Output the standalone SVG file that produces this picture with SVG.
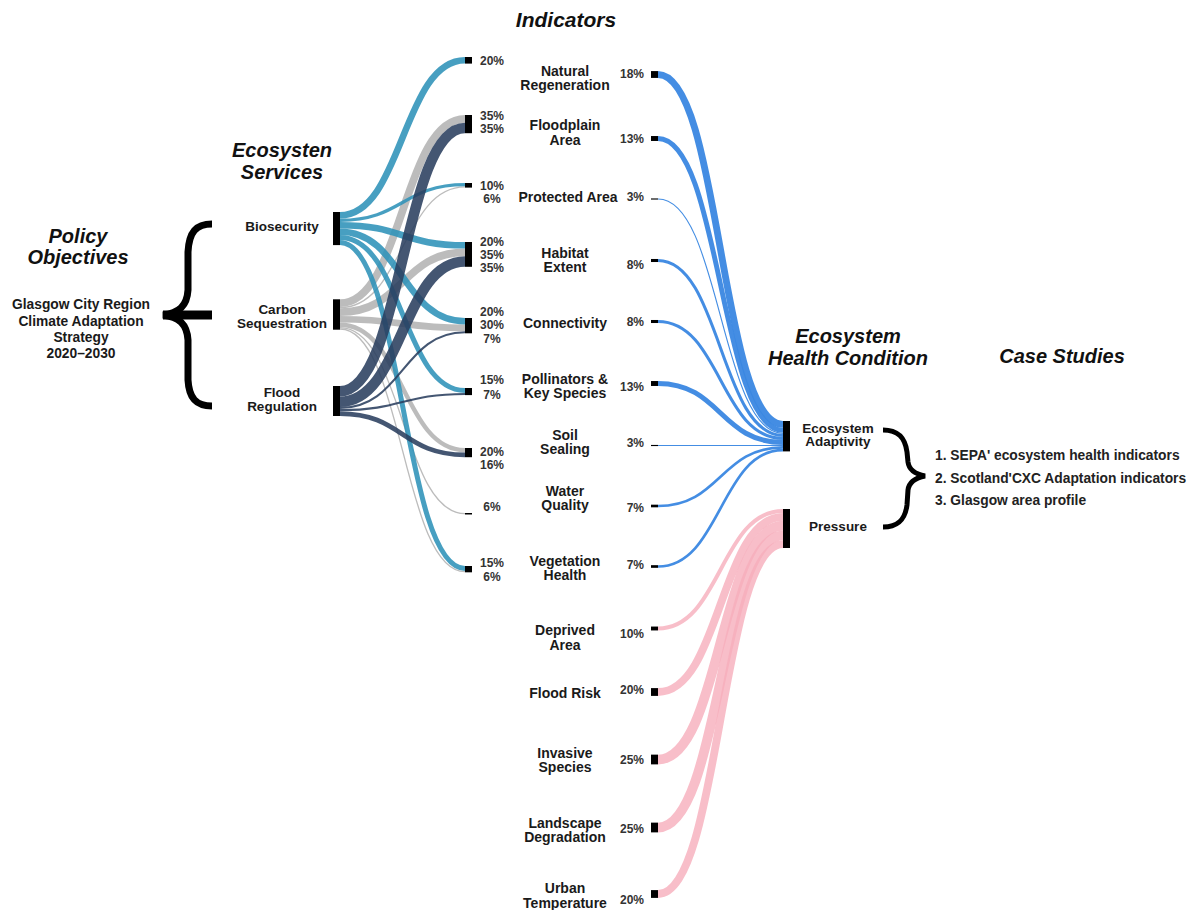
<svg xmlns="http://www.w3.org/2000/svg" width="1200" height="910" viewBox="0 0 1200 910">
<style>
text{font-family:"Liberation Sans",Arial,sans-serif;font-weight:bold;fill:#1a1a1a}
.lbl{font-size:14px;text-anchor:middle}
.slbl{font-size:13.5px;text-anchor:middle}
.plbl{font-size:13.8px;text-anchor:middle}
.pct{font-size:12px;fill:#333;text-anchor:middle}
.pctr{font-size:12px;fill:#333;text-anchor:end}
.title{font-size:20px;font-style:italic;text-anchor:middle;fill:#111}
.case{font-size:13.8px;fill:#222}
.bar{fill:#000}
.lk{fill:none;stroke-opacity:0.88}
.teal{stroke:#2e92b8}
.gray{stroke:#b3b3b3}
.navy{stroke:#2a3f5e}
.blue{stroke:#3a87e2;stroke-opacity:0.95}
.pink{stroke:#f6aebc;stroke-opacity:0.8}
.brace{fill:none;stroke:#000;stroke-linecap:butt}
</style>

<g id="titles">
<text class="title" x="566" y="27" style="font-size:21px">Indicators</text>
<text class="title" x="282" y="157">Ecosysten</text>
<text class="title" x="282" y="179">Services</text>
<text class="title" x="78" y="243">Policy</text>
<text class="title" x="78" y="264">Objectives</text>
<text class="title" x="848" y="343">Ecosystem</text>
<text class="title" x="848" y="365">Health Condition</text>
<text class="title" x="1062" y="363">Case Studies</text>
</g>

<g id="policy">
<text class="plbl" x="81" y="309">Glasgow City Region</text>
<text class="plbl" x="81" y="326">Climate Adaptation</text>
<text class="plbl" x="81" y="342">Strategy</text>
<text class="plbl" x="81" y="358">2020–2030</text>
<path class="brace" stroke-width="7" d="M212,224 C196,224 189,232 188,252 L188,290 C187,306 179,313 163,315 C179,317 187,324 188,340 L188,380 C189,398 196,406 212,406"/>
<path class="brace" stroke-width="9" d="M163,315 H212"/>
</g>

<g id="links">
<g class="lk gray">
<path stroke-width="7.7" d="M340,303.15 C402.5,303.15 402.5,118.85 465,118.85"/>
<path stroke-width="1.32" d="M340,307.66 C402.5,307.66 402.5,186.96 465,186.96"/>
<path stroke-width="7.7" d="M340,312.17 C402.5,312.17 402.5,252.45 465,252.45"/>
<path stroke-width="6.6" d="M340,319.32 C402.5,319.32 402.5,327.9 465,327.9"/>
<path stroke-width="4.4" d="M340,324.82 C402.5,324.82 402.5,450.2 465,450.2"/>
<path stroke-width="1.32" d="M340,327.68 C402.5,327.68 402.5,513.66 465,513.66"/>
<path stroke-width="1.32" d="M340,329 C402.5,329 402.5,571.66 465,571.66"/>
</g>
<g class="lk teal">
<path stroke-width="6.6" d="M340,215.3 C402.5,215.3 402.5,60.3 465,60.3"/>
<path stroke-width="3.3" d="M340,220.25 C402.5,220.25 402.5,184.65 465,184.65"/>
<path stroke-width="6.6" d="M340,225.2 C402.5,225.2 402.5,245.3 465,245.3"/>
<path stroke-width="6.6" d="M340,231.8 C402.5,231.8 402.5,321.3 465,321.3"/>
<path stroke-width="5" d="M340,237.6 C402.5,237.6 402.5,390.5 465,390.5"/>
<path stroke-width="5" d="M340,242.6 C402.5,242.6 402.5,568.5 465,568.5"/>
</g>
<g class="lk navy">
<path stroke-width="10.5" d="M340,391.25 C402.5,391.25 402.5,127.95 465,127.95"/>
<path stroke-width="10.5" d="M340,401.75 C402.5,401.75 402.5,261.55 465,261.55"/>
<path stroke-width="2.1" d="M340,408.05 C402.5,408.05 402.5,332.25 465,332.25"/>
<path stroke-width="2.1" d="M340,410.15 C402.5,410.15 402.5,394.05 465,394.05"/>
<path stroke-width="4.8" d="M340,413.6 C402.5,413.6 402.5,454.8 465,454.8"/>
</g>
<g class="lk blue">
<path stroke-width="6.84" d="M658,74.5 C720.5,74.5 720.5,424.42 783,424.42"/>
<path stroke-width="4.94" d="M658,138.5 C720.5,138.5 720.5,430.31 783,430.31"/>
<path stroke-width="1.14" d="M658,199 C720.5,199 720.5,433.35 783,433.35"/>
<path stroke-width="3.04" d="M658,260.5 C720.5,260.5 720.5,435.44 783,435.44"/>
<path stroke-width="3.04" d="M658,321.5 C720.5,321.5 720.5,438.48 783,438.48"/>
<path stroke-width="4.94" d="M658,383.5 C720.5,383.5 720.5,442.47 783,442.47"/>
<path stroke-width="1.14" d="M658,445.5 C720.5,445.5 720.5,445.51 783,445.51"/>
<path stroke-width="2.66" d="M658,506 C720.5,506 720.5,447.41 783,447.41"/>
<path stroke-width="2.66" d="M658,566.5 C720.5,566.5 720.5,450.07 783,450.07"/>
</g>
<g class="lk pink">
<path stroke-width="3.9" d="M658,628.5 C720.5,628.5 720.5,510.95 783,510.95"/>
<path stroke-width="7.8" d="M658,692 C720.5,692 720.5,516.8 783,516.8"/>
<path stroke-width="9.75" d="M658,759.5 C720.5,759.5 720.5,525.58 783,525.58"/>
<path stroke-width="9.75" d="M658,827.5 C720.5,827.5 720.5,535.33 783,535.33"/>
<path stroke-width="7.8" d="M658,894 C720.5,894 720.5,544.1 783,544.1"/>
</g>
</g>

<g id="svc-biosecurity">
<rect class="bar" x="333" y="212" width="7" height="33.1"/>
<text class="slbl" x="282" y="231">Biosecurity</text>
</g>
<g id="svc-carbon">
<rect class="bar" x="333" y="299.3" width="7" height="30.4"/>
<text class="slbl" x="282" y="314">Carbon</text>
<text class="slbl" x="282" y="328">Sequestration</text>
</g>
<g id="svc-flood">
<rect class="bar" x="333" y="386" width="7" height="30"/>
<text class="slbl" x="282" y="397">Flood</text>
<text class="slbl" x="282" y="411">Regulation</text>
</g>

<g id="ind-natural-regeneration">
<rect class="bar" x="465" y="57" width="7" height="6.6"/>
<text class="pct" x="492" y="65">20%</text>
<text class="lbl" x="565" y="76">Natural</text>
<text class="lbl" x="565" y="90">Regeneration</text>
<rect class="bar" x="651" y="71.08" width="7" height="6.84"/>
<text class="pctr" x="644" y="78">18%</text>
</g>
<g id="ind-floodplain-area">
<rect class="bar" x="465" y="115" width="7" height="18.2"/>
<text class="pct" x="492" y="120">35%</text>
<text class="pct" x="492" y="133">35%</text>
<text class="lbl" x="565" y="130">Floodplain</text>
<text class="lbl" x="565" y="145">Area</text>
<rect class="bar" x="651" y="136.03" width="7" height="4.94"/>
<text class="pctr" x="644" y="143">13%</text>
</g>
<g id="ind-protected-area">
<rect class="bar" x="465" y="183" width="7" height="4.62"/>
<text class="pct" x="492" y="190">10%</text>
<text class="pct" x="492" y="203">6%</text>
<text class="lbl" x="568" y="202">Protected Area</text>
<rect class="bar" x="651" y="198.43" width="7" height="1.14"/>
<text class="pctr" x="644" y="201">3%</text>
</g>
<g id="ind-habitat-extent">
<rect class="bar" x="465" y="242" width="7" height="24.8"/>
<text class="pct" x="492" y="246">20%</text>
<text class="pct" x="492" y="259">35%</text>
<text class="pct" x="492" y="272">35%</text>
<text class="lbl" x="565" y="258">Habitat</text>
<text class="lbl" x="565" y="272">Extent</text>
<rect class="bar" x="651" y="258.98" width="7" height="3.04"/>
<text class="pctr" x="644" y="269">8%</text>
</g>
<g id="ind-connectivity">
<rect class="bar" x="465" y="318" width="7" height="15.3"/>
<text class="pct" x="492" y="316">20%</text>
<text class="pct" x="492" y="329">30%</text>
<text class="pct" x="492" y="343">7%</text>
<text class="lbl" x="565" y="328">Connectivity</text>
<rect class="bar" x="651" y="319.98" width="7" height="3.04"/>
<text class="pctr" x="644" y="326">8%</text>
</g>
<g id="ind-pollinators">
<rect class="bar" x="465" y="388" width="7" height="7.1"/>
<text class="pct" x="492" y="384">15%</text>
<text class="pct" x="492" y="399">7%</text>
<text class="lbl" x="565" y="384">Pollinators &amp;</text>
<text class="lbl" x="565" y="398">Key Species</text>
<rect class="bar" x="651" y="381.03" width="7" height="4.94"/>
<text class="pctr" x="644" y="391">13%</text>
</g>
<g id="ind-soil-sealing">
<rect class="bar" x="465" y="448" width="7" height="9.2"/>
<text class="pct" x="492" y="456">20%</text>
<text class="pct" x="492" y="469">16%</text>
<text class="lbl" x="565" y="440">Soil</text>
<text class="lbl" x="565" y="454">Sealing</text>
<rect class="bar" x="651" y="444.93" width="7" height="1.14"/>
<text class="pctr" x="644" y="447">3%</text>
</g>
<g id="ind-water-quality">
<rect class="bar" x="465" y="513" width="7" height="1.5"/>
<text class="pct" x="492" y="511">6%</text>
<text class="lbl" x="565" y="496">Water</text>
<text class="lbl" x="565" y="510">Quality</text>
<rect class="bar" x="651" y="504.67" width="7" height="2.66"/>
<text class="pctr" x="644" y="512">7%</text>
</g>
<g id="ind-vegetation-health">
<rect class="bar" x="465" y="566" width="7" height="6.32"/>
<text class="pct" x="492" y="567">15%</text>
<text class="pct" x="492" y="581">6%</text>
<text class="lbl" x="565" y="566">Vegetation</text>
<text class="lbl" x="565" y="580">Health</text>
<rect class="bar" x="651" y="565.17" width="7" height="2.66"/>
<text class="pctr" x="644" y="569">7%</text>
</g>
<g id="ind-deprived-area">
<text class="lbl" x="565" y="635">Deprived</text>
<text class="lbl" x="565" y="650">Area</text>
<rect class="bar" x="651" y="626.55" width="7" height="3.9"/>
<text class="pctr" x="644" y="638">10%</text>
</g>
<g id="ind-flood-risk">
<text class="lbl" x="565" y="698">Flood Risk</text>
<rect class="bar" x="651" y="688.1" width="7" height="7.8"/>
<text class="pctr" x="644" y="694">20%</text>
</g>
<g id="ind-invasive-species">
<text class="lbl" x="565" y="758">Invasive</text>
<text class="lbl" x="565" y="772">Species</text>
<rect class="bar" x="651" y="754.63" width="7" height="9.75"/>
<text class="pctr" x="644" y="764">25%</text>
</g>
<g id="ind-landscape-degradation">
<text class="lbl" x="565" y="828">Landscape</text>
<text class="lbl" x="565" y="842">Degradation</text>
<rect class="bar" x="651" y="822.63" width="7" height="9.75"/>
<text class="pctr" x="644" y="833">25%</text>
</g>
<g id="ind-urban-temperature">
<text class="lbl" x="565" y="893">Urban</text>
<text class="lbl" x="565" y="908">Temperature</text>
<rect class="bar" x="651" y="890.1" width="7" height="7.8"/>
<text class="pctr" x="644" y="904">20%</text>
</g>

<g id="ehc-adaptivity">
<rect class="bar" x="783" y="421" width="7" height="30.4"/>
<text class="slbl" x="838" y="433">Ecosystem</text>
<text class="slbl" x="838" y="446">Adaptivity</text>
</g>
<g id="ehc-pressure">
<rect class="bar" x="783" y="509" width="7" height="39"/>
<text class="slbl" x="838" y="531">Pressure</text>
</g>

<g id="case-studies">
<path class="brace" stroke-width="5" d="M883,430 C898,430 905,437 907,452 L908,462 C909,470 915,474 925,476 C915,478 909,482 908,490 L907,505 C905,520 898,527 883,527"/>
<text class="case" x="935" y="460">1. SEPA' ecosystem health indicators</text>
<text class="case" x="935" y="483">2. Scotland'CXC Adaptation indicators</text>
<text class="case" x="935" y="505">3. Glasgow area profile</text>
</g>
</svg>
